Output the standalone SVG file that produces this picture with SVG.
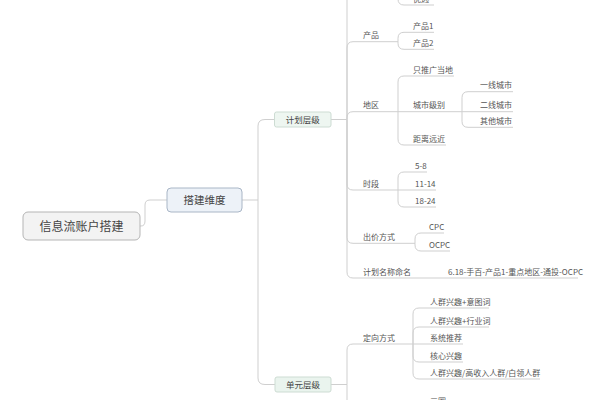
<svg xmlns="http://www.w3.org/2000/svg" width="600" height="400" viewBox="0 0 600 400">
<style>
.c{fill:none;stroke:#cfcfcf;stroke-width:1}
.t{font-family:"Noto Sans CJK SC","Noto Sans",sans-serif;font-size:8px;fill:#555}
.n{font-family:"Noto Sans CJK SC","Noto Sans",sans-serif;fill:#444;text-anchor:middle}
</style>
<rect width="600" height="400" fill="#ffffff"/>
<g id="connectors">
<path class="c" d="M140,226 H141 Q145,226 145,221 V205 Q145,200 150,200 H167"/>
<path class="c" d="M242,200 H258"/>
<path class="c" d="M258,200 V126 Q258,119.5 265,119.5 H274.5"/>
<path class="c" d="M258,200 V378 Q258,384.5 265,384.5 H275"/>
<path class="c" d="M331,119.5 H347"/>
<path class="c" d="M347,119.5 V-10"/>
<path class="c" d="M347,119.5 V48 Q347,41.7 353,41.7 H398"/>
<path class="c" d="M347,119.5 V117.7 Q347,111.7 353,111.7 H462"/>
<path class="c" d="M347,119.5 V184 Q347,190 353,190 H398"/>
<path class="c" d="M347,119.5 V237.3 Q347,243.3 353,243.3 H415"/>
<path class="c" d="M347,119.5 V272 Q347,278 353,278 H578"/>
<path class="c" d="M398,-10 V-1 Q398,5 404,5 H434"/>
<path class="c" d="M398,41.7 V38.3 Q398,32.3 404,32.3 H434"/>
<path class="c" d="M398,41.7 V43.3 Q398,49.3 404,49.3 H434"/>
<path class="c" d="M398,111.7 V82 Q398,76 404,76 H454"/>
<path class="c" d="M398,111.7 V139 Q398,145 404,145 H446"/>
<path class="c" d="M462,111.7 V97.7 Q462,91.7 468,91.7 H513"/>
<path class="c" d="M462,111.7 H513"/>
<path class="c" d="M462,111.7 V121.3 Q462,127.3 468,127.3 H513"/>
<path class="c" d="M398,190 V178 Q398,172 404,172 H427"/>
<path class="c" d="M398,190 H436"/>
<path class="c" d="M398,190 V201 Q398,207 404,207 H436"/>
<path class="c" d="M415,243.3 V239 Q415,233 421,233 H444"/>
<path class="c" d="M415,243.3 V245 Q415,251 421,251 H450"/>
<path class="c" d="M331,384.5 H347"/>
<path class="c" d="M347,384.5 V410"/>
<path class="c" d="M347,384.5 V350 Q347,344 353,344 H413"/>
<path class="c" d="M413,344 V314 Q413,308 419,308 H489"/>
<path class="c" d="M413,344 V333 Q413,327 419,327 H489"/>
<path class="c" d="M413,344 H463"/>
<path class="c" d="M413,344 V356 Q413,362 419,362 H463"/>
<path class="c" d="M413,344 V373 Q413,379 419,379 H540"/>
</g>
<g id="root">
<rect x="23" y="212" width="117" height="28" rx="5" fill="#f3f3f3" stroke="#b5b5b5"/>
<text class="n" x="81.5" y="230.5" font-size="12">信息流账户搭建</text>
</g>
<g id="dim">
<rect x="167" y="188" width="75" height="24" rx="4" fill="#edf2f8" stroke="#a9b6c6"/>
<text class="n" x="204.5" y="204" font-size="10.5">搭建维度</text>
</g>
<g id="plan">
<rect x="274.5" y="112" width="56.5" height="15" rx="2" fill="#eef6f1" stroke="#cddcd3"/>
<text class="n" x="302.75" y="122.6" font-size="8.5">计划层级</text>
</g>
<g id="unit">
<rect x="275" y="377" width="56" height="15" rx="2" fill="#eaf4ee" stroke="#cddcd3"/>
<text class="n" x="303" y="387.6" font-size="8.5">单元层级</text>
</g>
<g id="labels">
<text class="t" x="413" y="1.5">优选</text>
<text class="t" x="363" y="38.2">产品</text>
<text class="t" x="413" y="28.8">产品1</text>
<text class="t" x="413" y="45.8">产品2</text>
<text class="t" x="363" y="108.2">地区</text>
<text class="t" x="413" y="72.5">只推广当地</text>
<text class="t" x="413" y="108.2">城市级别</text>
<text class="t" x="413" y="141.5">距离远近</text>
<text class="t" x="480" y="88.2">一线城市</text>
<text class="t" x="480" y="108.2">二线城市</text>
<text class="t" x="480" y="123.8">其他城市</text>
<text class="t" x="363" y="186.5">时段</text>
<text class="t" x="415" y="168.5">5-8</text>
<text class="t" x="415" y="186.5">11-14</text>
<text class="t" x="415" y="203.5">18-24</text>
<text class="t" x="363" y="239.8">出价方式</text>
<text class="t" x="429" y="229.5">CPC</text>
<text class="t" x="429" y="247.5">OCPC</text>
<text class="t" x="363" y="274.5">计划名称命名</text>
<text class="t" x="448" y="274.5">6.18-手百-产品1-重点地区-通投-OCPC</text>
<text class="t" x="363" y="340.5">定向方式</text>
<text class="t" x="430" y="304.5">人群兴趣+意图词</text>
<text class="t" x="430" y="323.5">人群兴趣+行业词</text>
<text class="t" x="430" y="340.5">系统推荐</text>
<text class="t" x="430" y="358.5">核心兴趣</text>
<text class="t" x="430" y="375.5">人群兴趣/高收入人群/白领人群</text>
<text class="t" x="430" y="404">三圈</text>
</g>
</svg>
